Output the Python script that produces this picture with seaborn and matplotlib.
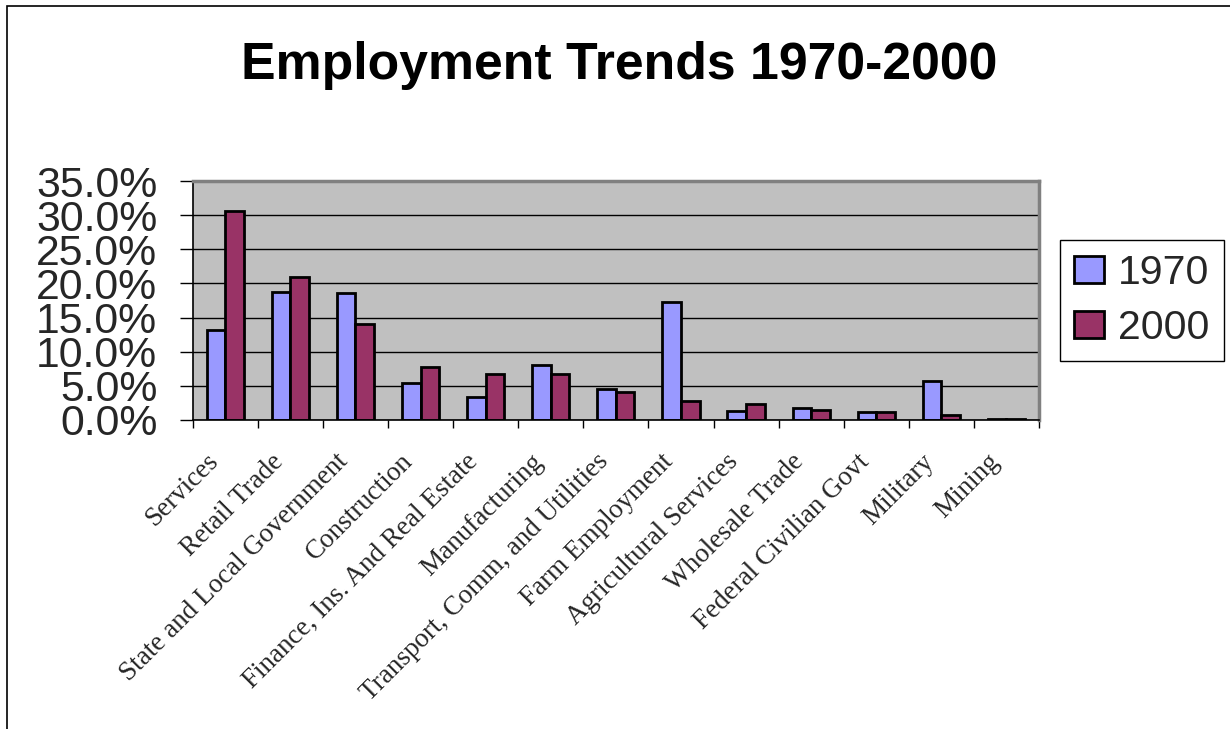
import pandas as pd
import numpy as np
import matplotlib
matplotlib.use("Agg")
import matplotlib.pyplot as plt
import matplotlib.transforms as mtransforms
from matplotlib.ticker import PercentFormatter, MultipleLocator, FixedLocator
from matplotlib.patches import Rectangle
import seaborn as sns

# data (percent of total employment)
sectors = ["Services", "Retail Trade", "State and Local Government", "Construction",
           "Finance, Ins. And Real Estate", "Manufacturing", "Transport, Comm, and Utilities",
           "Farm Employment", "Agricultural Services", "Wholesale Trade",
           "Federal Civilian Govt", "Military", "Mining"]
share_1970 = [13.2, 18.7, 18.6, 5.4, 3.4, 8.0, 4.5, 17.3, 1.3, 1.7, 1.2, 5.7, 0.1]
share_2000 = [30.6, 21.0, 14.0, 7.7, 6.8, 6.7, 4.1, 2.8, 2.3, 1.5, 1.2, 0.7, 0.1]
years = ["1970", "2000"]
colors = ["#9999FF", "#993366"]

df = pd.DataFrame({
    "sector": sectors * 2,
    "share": share_1970 + share_2000,
    "year": [years[0]] * len(sectors) + [years[1]] * len(sectors),
})

sns.set_theme(style="white")
plt.rcParams["font.family"] = ["Liberation Sans", "DejaVu Sans"]

fig = plt.figure(figsize=(12.3, 7.29), dpi=100)
ax = fig.add_axes([0.1567, 0.4239, 0.688, 0.3278])
ax.set_facecolor("#C0C0C0")

sns.barplot(data=df, x="sector", y="share", hue="year", palette=colors,
            width=0.57, saturation=1, edgecolor="black", linewidth=2,
            ax=ax, legend=True)

# y axis
ax.set_ylim(0, 35)
ax.set_xlim(-0.5, len(sectors) - 0.5)
ax.yaxis.set_major_locator(MultipleLocator(5))
ax.yaxis.set_major_formatter(PercentFormatter(xmax=100, decimals=1))
ax.yaxis.grid(True, color="black", lw=1)
ax.set_axisbelow(True)
ax.tick_params(axis="y", which="major", left=True, length=9.5, width=1,
               color="black", direction="out", pad=16, labelsize=30.8)

# x axis: labels without ticks, tick marks between categories
ax.tick_params(axis="x", which="major", length=0, pad=8)
ax.xaxis.set_minor_locator(FixedLocator(np.arange(-0.5, len(sectors), 1)))
ax.tick_params(axis="x", which="minor", bottom=True, length=6, width=1,
               color="black", direction="out")
shift = mtransforms.ScaledTranslation(-20 / 100, -18 / 100, fig.dpi_scale_trans)
for lab in ax.get_xticklabels():
    lab.set_rotation(45)
    lab.set_ha("right")
    lab.set_rotation_mode("anchor")
    lab.set_family(["Liberation Serif", "DejaVu Serif"])
    lab.set_fontsize(19.5)
    lab.set_transform(lab.get_transform() + shift)
ax.set_xlabel("")
ax.set_ylabel("")

# plot area border
for s in ["left", "bottom"]:
    ax.spines[s].set_color("black")
    ax.spines[s].set_linewidth(1.2)
for s in ["top", "right"]:
    ax.spines[s].set_color("#808080")
    ax.spines[s].set_linewidth(2.5)

# legend
h, l = ax.get_legend_handles_labels()
ax.get_legend().remove()
leg = fig.legend(h, l, loc="center", bbox_to_anchor=(0.9285, 0.5878), fontsize=29.5,
                 frameon=True, fancybox=False, edgecolor="black", framealpha=1,
                 handlelength=0.72, handleheight=0.65, handletextpad=0.35,
                 labelspacing=0.42, borderpad=0.35)
leg.get_frame().set_linewidth(1)

fig.text(0.503, 1 - 66 / 729, "Employment Trends 1970-2000", ha="center", va="center",
         fontsize=37.3, fontweight="bold", color="black")

# chart border
fig.add_artist(Rectangle((7 / 1230, -0.1), 1.5, 1 - 6 / 729 + 0.1,
                         transform=fig.transFigure, fill=False, lw=1.2, ec="black"))

fig.savefig("out.png", dpi=100, facecolor="white")
